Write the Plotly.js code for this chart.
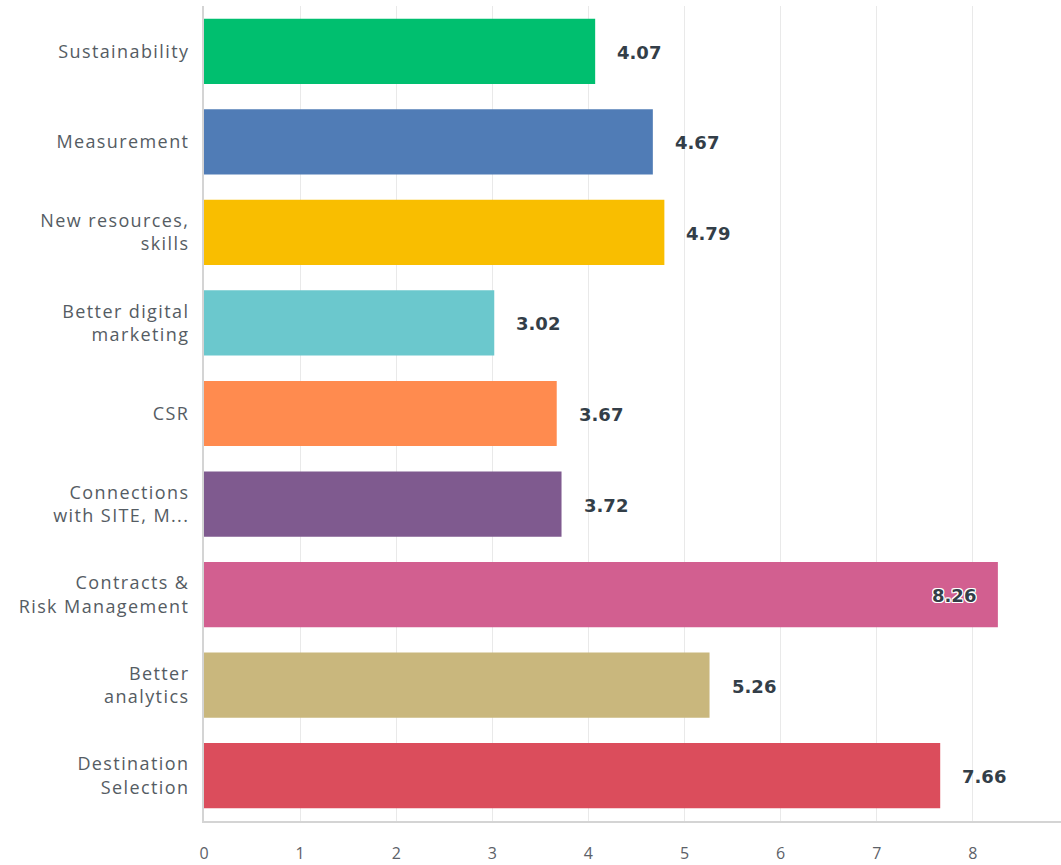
<!DOCTYPE html>
<html>
<head>
<meta charset="utf-8">
<script src="https://cdn.plot.ly/plotly-3.0.1.min.js"></script>
<style>
html, body { margin: 0; padding: 0; overflow: hidden; background: #fff; }
#chart { width: 1075px; height: 865px; }
.ytick text { letter-spacing: 1.4px; }
</style>
</head>
<body>
<div id="chart"></div>
<script>
const categories = [
  "Sustainability",
  "Measurement",
  "New resources,<br>skills",
  "Better digital<br>marketing",
  "CSR",
  "Connections<br>with SITE, M...",
  "Contracts &<br>Risk Management",
  "Better<br>analytics",
  "Destination<br>Selection"
];
const values = [4.07, 4.67, 4.79, 3.02, 3.67, 3.72, 8.26, 5.26, 7.66];
const colors = ["#00bf6f", "#507cb6", "#f9be00", "#6bc8cd", "#ff8b4f", "#7f5a8f", "#d25f90", "#c9b77d", "#db4d5c"];
const tickVals = [0, 1, 2, 3, 4, 5, 6, 7, 8, 9];

const trace = {
  type: "bar",
  orientation: "h",
  y: categories,
  x: values,
  marker: { color: colors, line: { width: 0 } },
  hoverinfo: "none"
};

const insideThreshold = 8;
const annotations = values.map((v, i) => {
  const inside = v > insideThreshold;
  return {
    x: v, y: categories[i], xref: "x", yref: "y",
    text: v.toFixed(2),
    showarrow: false,
    xanchor: inside ? "right" : "left",
    xshift: inside ? -20 : 20,
    yshift: -1,
    font: {
      family: "'DejaVu Sans', sans-serif", size: 18, color: "#333e48", weight: 700,
      shadow: inside ? "1px 1px 0 #fff, -1px -1px 0 #fff, 1px -1px 0 #fff, -1px 1px 0 #fff, 0 1px 0 #fff, 0 -1px 0 #fff, 1px 0 0 #fff, -1px 0 0 #fff" : "none"
    }
  };
});

const layout = {
  width: 1075, height: 865,
  margin: { l: 204, r: 6, t: 6, b: 44 },
  paper_bgcolor: "#fff", plot_bgcolor: "#fff",
  showlegend: false,
  bargap: 0.28,
  font: { family: "'Open Sans', 'Noto Sans', sans-serif", color: "#555c63" },
  xaxis: {
    range: [0, 9],
    tickvals: tickVals,
    ticktext: tickVals.map(String),
    showgrid: true, gridcolor: "#e9e9e9", gridwidth: 1,
    zeroline: false,
    showline: true, linecolor: "#d4d4d4", linewidth: 2,
    ticks: "outside", ticklen: 17, tickcolor: "rgba(0,0,0,0)",
    tickfont: { size: 16, color: "#5c6168" },
    fixedrange: true
  },
  yaxis: {
    autorange: "reversed",
    showgrid: false, zeroline: false,
    showline: true, linecolor: "#d4d4d4", linewidth: 2,
    ticks: "outside", ticklen: 9, tickcolor: "rgba(0,0,0,0)",
    tickfont: { size: 18, color: "#555c63" },
    fixedrange: true
  },
  annotations: annotations
};

Plotly.newPlot("chart", [trace], layout, { displayModeBar: false, staticPlot: true });
</script>
</body>
</html>
